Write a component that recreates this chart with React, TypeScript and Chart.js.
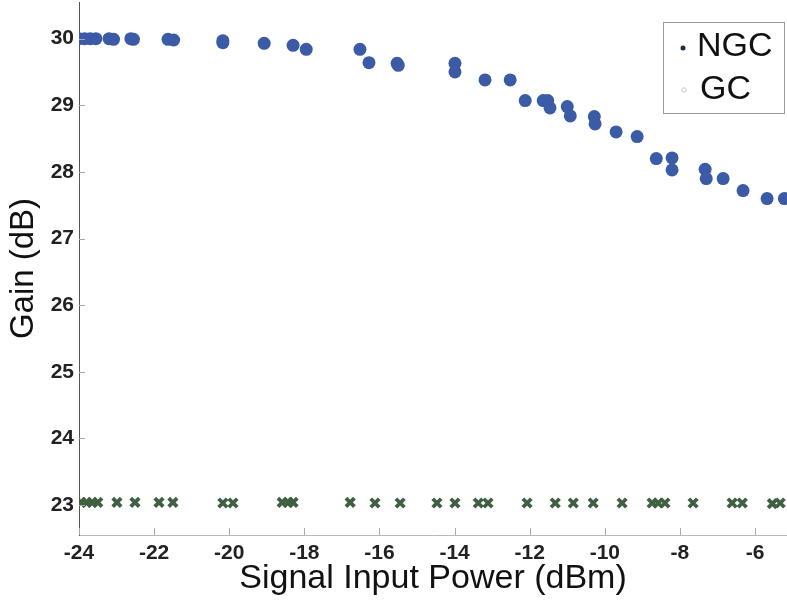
import React, { useEffect, useRef } from "react";
import { Chart, registerables } from "chart.js";

Chart.register(...registerables);

const xTicks = [-24, -22, -20, -18, -16, -14, -12, -10, -8, -6];
const yTicks = [23, 24, 25, 26, 27, 28, 29, 30];

const ngcPower = [
  -24.0, -23.85, -23.7, -23.55, -23.2, -23.08, -22.62, -22.55, -21.63, -21.48,
  -20.17, -20.17, -19.07, -18.3, -17.95, -16.52, -16.28, -15.53, -15.5, -13.99,
  -13.99, -13.19, -12.52, -12.12, -11.64, -11.52, -11.46, -11.0, -10.92, -10.28,
  -10.26, -9.7, -9.14, -8.63, -8.21, -8.21, -7.33, -7.3, -6.85, -6.32, -5.68, -5.22,
];
const ngcGain = [
  30.0, 30.0, 30.0, 30.0, 30.0, 29.99, 30.0, 29.99, 29.99, 29.98,
  29.94, 29.97, 29.93, 29.9, 29.84, 29.84, 29.64, 29.63, 29.6, 29.63,
  29.5, 29.38, 29.38, 29.07, 29.07, 29.07, 28.96, 28.98, 28.84, 28.83,
  28.72, 28.6, 28.53, 28.2, 28.21, 28.03, 28.04, 27.9, 27.9, 27.72, 27.6, 27.6,
];

const gcPower = [
  -23.95, -23.8, -23.65, -23.5, -22.99, -22.51, -21.87, -21.5, -20.17, -19.9,
  -18.59, -18.43, -18.3, -16.78, -16.12, -15.45, -14.47, -13.99, -13.37, -13.11,
  -12.07, -11.32, -10.84, -10.31, -9.54, -8.74, -8.58, -8.4, -7.65, -6.61,
  -6.34, -5.54, -5.33,
];
const gcGain = [
  23.04, 23.04, 23.04, 23.04, 23.04, 23.04, 23.04, 23.04, 23.03, 23.03,
  23.04, 23.04, 23.04, 23.04, 23.03, 23.03, 23.03, 23.03, 23.03, 23.03,
  23.03, 23.03, 23.03, 23.03, 23.03, 23.03, 23.03, 23.03, 23.03, 23.03,
  23.03, 23.02, 23.03,
];

const seriesNames = ["NGC", "GC"];
const xTitle = "Signal Input Power (dBm)";
const yTitle = "Gain (dB)";

const FONT = "'Liberation Sans', Arial, Helvetica, sans-serif";

export default function App() {
  const ref = useRef<HTMLCanvasElement>(null);

  useEffect(() => {
    if (!ref.current) return;

    const inwardTicks = {
      id: "inwardTicks",
      afterDatasetsDraw(chart: any) {
        const { ctx, chartArea, scales } = chart;
        ctx.save();
        ctx.strokeStyle = "#a8a8a8";
        ctx.lineWidth = 1;
        xTicks.forEach((v) => {
          const px = Math.round(scales.x.getPixelForValue(v)) + 0.5;
          ctx.beginPath();
          ctx.moveTo(px, chartArea.bottom);
          ctx.lineTo(px, chartArea.bottom - 7);
          ctx.stroke();
        });
        yTicks.forEach((v) => {
          const py = Math.round(scales.y.getPixelForValue(v)) + 0.5;
          ctx.beginPath();
          ctx.moveTo(chartArea.left, py);
          ctx.lineTo(chartArea.left + 6, py);
          ctx.stroke();
        });
        ctx.restore();
      },
    };

    const boxLegend = {
      id: "boxLegend",
      afterDraw(chart: any) {
        const { ctx } = chart;
        ctx.save();
        ctx.fillStyle = "#ffffff";
        ctx.fillRect(663, 22, 121, 91);
        ctx.strokeStyle = "#9a9a9a";
        ctx.lineWidth = 1;
        ctx.strokeRect(663.5, 22.5, 121, 91);
        ctx.fillStyle = "#1f2a4a";
        ctx.beginPath();
        ctx.arc(683, 48, 2.5, 0, Math.PI * 2);
        ctx.fill();
        ctx.strokeStyle = "#c8c8c8";
        ctx.beginPath();
        ctx.arc(684, 90, 2.2, 0, Math.PI * 2);
        ctx.stroke();
        ctx.fillStyle = "#111";
        ctx.font = `34px ${FONT}`;
        ctx.textBaseline = "middle";
        ctx.textAlign = "left";
        ctx.fillText(seriesNames[0], 697, 47);
        ctx.fillText(seriesNames[1], 700, 90);
        ctx.restore();
      },
    };

    const zeroPad = (s: any) => {
      s.paddingTop = 0;
      s.paddingBottom = 0;
      s.paddingLeft = 0;
      s.paddingRight = 0;
    };

    const chart = new Chart(ref.current, {
      type: "scatter",
      data: {
        datasets: [
          {
            label: seriesNames[0],
            data: ngcPower.map((x, i) => ({ x, y: ngcGain[i] })),
            pointStyle: "circle",
            pointRadius: 6.5,
            backgroundColor: "#3b5ba6",
            borderColor: "#3b5ba6",
            borderWidth: 0,
          },
          {
            label: seriesNames[1],
            data: gcPower.map((x, i) => ({ x, y: gcGain[i] })),
            pointStyle: "crossRot",
            pointRadius: 6,
            backgroundColor: "#3f6142",
            borderColor: "#3f6142",
            borderWidth: 3.8,
          },
        ],
      },
      options: {
        responsive: false,
        animation: false,
        devicePixelRatio: 1,
        layout: { autoPadding: false, padding: { top: 2, right: 0, bottom: 0, left: 0 } },
        plugins: {
          legend: { display: false },
          tooltip: { enabled: false },
        },
        scales: {
          x: {
            type: "linear",
            min: -24,
            max: -5.15,
            afterBuildTicks: (s: any) => {
              s.ticks = xTicks.map((v) => ({ value: v }));
            },
            afterFit: (s: any) => {
              s.height = 65;
              zeroPad(s);
            },
            grid: { display: true, drawOnChartArea: false, drawTicks: false },
            border: { display: true, color: "#b8b8b8", width: 1 },
            ticks: {
              padding: 6,
              color: "#222",
              autoSkip: false,
              maxRotation: 0,
              font: { family: FONT, size: 21, weight: "bold" },
            },
            title: {
              display: true,
              text: xTitle,
              color: "#111",
              font: { family: FONT, size: 34 },
              padding: { top: 0, bottom: 1 },
            },
          },
          y: {
            type: "linear",
            min: 22.55,
            max: 30.55,
            afterBuildTicks: (s: any) => {
              s.ticks = yTicks.map((v) => ({ value: v }));
            },
            afterFit: (s: any) => {
              s.width = 79;
              zeroPad(s);
            },
            grid: { display: true, drawOnChartArea: false, drawTicks: false },
            border: { display: true, color: "#555", width: 1 },
            ticks: {
              padding: 5,
              color: "#222",
              autoSkip: false,
              font: { family: FONT, size: 21, weight: "bold" },
            },
            title: {
              display: true,
              text: yTitle,
              color: "#111",
              font: { family: FONT, size: 33 },
              padding: { top: 4, bottom: 0 },
            },
          },
        },
      },
      plugins: [inwardTicks, boxLegend],
    } as any);

    return () => chart.destroy();
  }, []);

  return (
    <div style={{ position: "absolute", left: 0, top: 0, width: 787, height: 600, background: "#fff" }}>
      <canvas ref={ref} width={787} height={600} style={{ display: "block" }} />
    </div>
  );
}
